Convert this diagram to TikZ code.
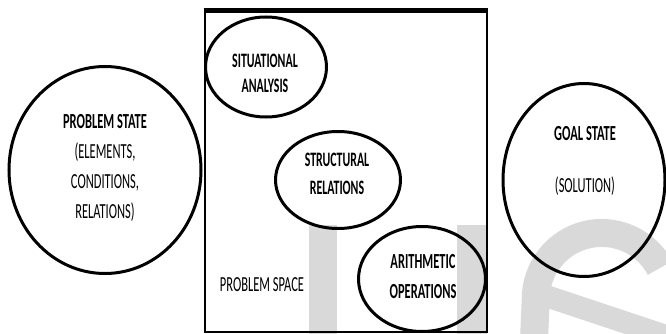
\documentclass[tikz,border=0pt]{standalone}
\usepackage{fontspec}
\setmainfont[FakeStretch=0.58]{Carlito}
\usetikzlibrary{shapes.geometric}
\usetikzlibrary{positioning}
\definecolor{wmgray}{HTML}{D9D9D9}

\begin{document}
\begin{tikzpicture}[
      x = 1pt, y = -1pt,
      state/.style = {
        ellipse, draw = black, line width = 3pt,
        inner sep = 0
      },
      lbl/.style = { align = center, font = \fontsize{21.5}{30}\selectfont },
      wm/.style = { draw = wmgray, line cap = butt },
    ]
    \useasboundingbox (0,0) rectangle (666,334);

    % watermark letters in the background
    \begin{scope}
      \clip (0,0) rectangle (666,334);
      \fill[wmgray] (309,225) rectangle (337,340);
      \fill[wmgray] (457,225) rectangle (487,340);
      \draw[wm, line width = 28pt] (660,268) arc[start angle = -28, end angle = -180, radius = 66] -- (534,340);
      \draw[wm, line width = 22pt] (546,296) -- (672,338);
    \end{scope}

    \node[draw = black, line width = 2.6pt, inner sep = 0,
          minimum width = 282pt, minimum height = 320pt] (space) at (346,172) {};
    \draw[line width = 4.5pt] (space.north west) -- (space.north east);

    \node[state, minimum width = 192pt, minimum height = 207pt] (problem) at (105,170) {};
    \node[state, minimum width = 162pt, minimum height = 193pt] (goal) at (584,180) {};

    \foreach \n/\x/\y/\w/\h in {situational/266/67/121/100, structural/338/180/125/97, arithmetic/422/279/127/105} {
      \node[state, minimum width = \w pt, minimum height = \h pt] (\n) at (\x,\y) {};
    }

    \node[lbl] (problemtxt) at (105,168) {\textbf{PROBLEM STATE}\\(ELEMENTS,\\CONDITIONS,\\RELATIONS)};
    \node[lbl] (goaltxt) at (585,161) {\textbf{GOAL STATE}\\[22pt](SOLUTION)};
    \node[lbl, font = \fontsize{20.5}{25}\selectfont\bfseries] (situationaltxt) at (265,73) {SITUATIONAL\\ANALYSIS};
    \node[lbl, font = \fontsize{20.5}{28}\selectfont\bfseries] (structuraltxt) at (337,174) {STRUCTURAL\\RELATIONS};
    \node[lbl, font = \fontsize{21.5}{30}\selectfont\bfseries] (arithmetictxt) at (423,277) {ARITHMETIC\\OPERATIONS};
    \node[lbl] (spacetxt) at (262,285) {PROBLEM SPACE};
  \end{tikzpicture}
\end{document}
